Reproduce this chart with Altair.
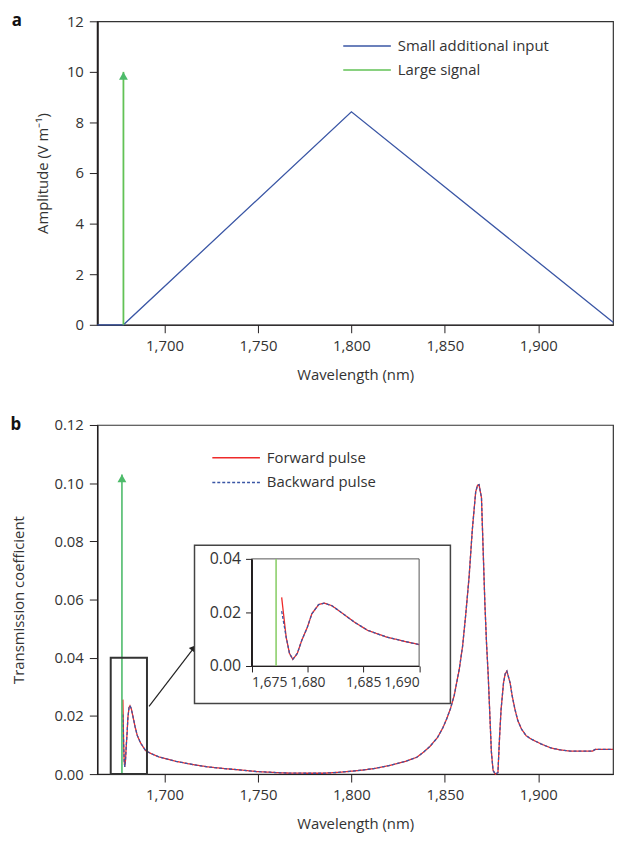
import altair as alt
import pandas as pd

# ---------------- data ----------------
# Panel a: pulse amplitudes
a_wavelength = [1664, 1678, 1800, 1940]
a_amplitude = [0.0, 0.0, 8.42, 0.1]
a_signal_wavelength = [1678]
a_signal_amplitude = [10]

# Panel b: transmission spectra
b_wavelength = [1677.7, 1678.1, 1678.4, 1678.7, 1679.1, 1679.5, 1680.0, 1680.4, 1681.0, 1681.5,
                1682.2, 1683.0, 1684.2, 1685.4, 1687.1, 1688.9, 1690.0, 1693, 1697, 1706,
                1715, 1723, 1732, 1741, 1749, 1755, 1763, 1775, 1785, 1793,
                1800, 1806, 1812, 1820, 1829, 1835, 1838.5, 1842, 1846, 1849,
                1851, 1853, 1855, 1857.7, 1859.5, 1861.2, 1863, 1864.7, 1866.5, 1867.5,
                1868.3, 1869.6, 1870.5, 1871.4, 1872.3, 1873.2, 1874.1, 1874.9, 1875.8, 1877.0,
                1878.4, 1879.3, 1880.1, 1881.4, 1882.3, 1883.2, 1884.9, 1886.0, 1887.5, 1889,
                1891, 1893.5, 1896.3, 1901.4, 1906.7, 1911.9, 1917.2, 1929, 1930.5, 1940]
forward_T = [0.0256, 0.0108, 0.0047, 0.0025, 0.0047, 0.0096, 0.0145, 0.0195, 0.0229, 0.0235,
             0.0225, 0.0201, 0.0164, 0.0133, 0.0108, 0.0090, 0.0080, 0.0070, 0.0059, 0.0044,
             0.0033, 0.0025, 0.0019, 0.0014, 0.0009, 0.0007, 0.0004, 0.0003, 0.0003, 0.0006,
             0.0010, 0.0014, 0.0019, 0.0029, 0.0044, 0.0058, 0.0075, 0.0095, 0.0125, 0.0160,
             0.0190, 0.0225, 0.0270, 0.0360, 0.0440, 0.0550, 0.0680, 0.0840, 0.0970, 0.0993,
             0.0995, 0.0950, 0.0770, 0.0590, 0.0450, 0.0340, 0.0200, 0.0077, 0.0013, 0.0000,
             0.0005, 0.0130, 0.0223, 0.0314, 0.0345, 0.0354, 0.0314, 0.0270, 0.0223, 0.0185,
             0.0155, 0.0132, 0.0120, 0.0104, 0.0090, 0.0083, 0.0079, 0.0079, 0.0085, 0.0085]
backward_T = [0.0205] + forward_T[1:]
b_signal_wavelength = [1677.2]
b_signal_T = [0.103]

# annotation boxes (data coordinates)
zoom_box_wl = [1671.2, 1690.6]
zoom_box_T = [0.0, 0.04]
pointer_wl = [1691.7, 1715.7]
pointer_T = [0.0233, 0.0434]
inset_box_wl = [1669.9, 1692.8]
inset_box_T = [-0.014, 0.0451]
inset_frame_wl = [1675, 1690]
inset_frame_T = [0.0, 0.04]

# ---------------- style ----------------
FONT = "Open Sans"
TXT = "#333333"
AX = "#231f20"
BLUE = "#3a56a5"
RED = "#ee2a2a"
GREEN = "#4dbb6a"
LGREEN = "#8ccf6c"
W = 520
HA = 306
HB = 352

x_scale = alt.Scale(domain=[1664, 1940], nice=False, zero=False)
x_axis = alt.Axis(values=[1700, 1750, 1800, 1850, 1900], format=",d",
                  title="Wavelength (nm)", titlePadding=14)

# ---------------- panel a ----------------
df_a = pd.DataFrame({"wl": a_wavelength, "amp": a_amplitude,
                     "series": ["Small additional input"] * len(a_wavelength)})
df_sig_a = pd.DataFrame({"wl": a_signal_wavelength, "amp": a_signal_amplitude,
                         "series": ["Large signal"]})

xa = alt.X("wl:Q", scale=x_scale, axis=x_axis)
ya = alt.Y("amp:Q", scale=alt.Scale(domain=[0, 12], nice=False),
           axis=alt.Axis(values=list(range(0, 13, 2)), title="Amplitude (V m\u207b\u00b9)",
                         titleX=-55, titleBaseline="middle", domainWidth=2))
color_a = alt.Color("series:N",
                    scale=alt.Scale(domain=["Small additional input", "Large signal"],
                                    range=[BLUE, "#62c256"]),
                    legend=alt.Legend(title=None, orient="none", legendX=247, legendY=12,
                                      symbolType="M-1,0H3", symbolSize=576,
                                      symbolStrokeWidth=1.5, labelOffset=30,
                                      labelFontSize=15, labelFont=FONT, labelColor=TXT,
                                      rowPadding=3, padding=0, labelLimit=400))

line_a = alt.Chart(df_a).mark_line(strokeWidth=1.3).encode(x=xa, y=ya, color=color_a)
arrow_a = alt.Chart(df_sig_a).mark_rule(strokeWidth=1.8).encode(
    x=xa, y=ya, y2=alt.datum(0), color=color_a)
head_a = alt.Chart(df_sig_a).mark_point(shape="triangle-up", filled=True, size=80,
                                        opacity=1, color=GREEN, yOffset=4).encode(x=xa, y=ya)
label_a = alt.Chart(pd.DataFrame({"t": ["a"]})).mark_text(
    font=FONT, fontSize=17, fontWeight="bold", color="#111", baseline="middle",
    align="center").encode(text="t:N", x=alt.value(-81), y=alt.value(0))

panel_a = alt.layer(line_a, arrow_a, head_a, label_a).properties(width=W, height=HA)

# ---------------- panel b ----------------
df_fwd = pd.DataFrame({"wl": b_wavelength, "T": forward_T,
                       "pulse": ["Forward pulse"] * len(b_wavelength)})
df_bwd = pd.DataFrame({"wl": b_wavelength, "T": backward_T,
                       "pulse": ["Backward pulse"] * len(b_wavelength)})
df_sig_b = pd.DataFrame({"wl": b_signal_wavelength, "T": b_signal_T})
df_zoom = pd.DataFrame({"wl": [zoom_box_wl[0]], "wl2": [zoom_box_wl[1]],
                        "T": [zoom_box_T[0]], "T2": [zoom_box_T[1]]})
df_ptr = pd.DataFrame({"wl": [pointer_wl[0]], "wl2": [pointer_wl[1]],
                       "T": [pointer_T[0]], "T2": [pointer_T[1]]})
df_ptr_head = pd.DataFrame({"wl": [pointer_wl[1]], "T": [pointer_T[1]]})

xb = alt.X("wl:Q", scale=x_scale, axis=x_axis)
yb = alt.Y("T:Q", scale=alt.Scale(domain=[0, 0.12], nice=False),
           axis=alt.Axis(values=[0, 0.02, 0.04, 0.06, 0.08, 0.10, 0.12], format=".2f",
                         title="Transmission coefficient", titleX=-79,
                         titleBaseline="middle", domainWidth=1.5))
pulse_domain = ["Forward pulse", "Backward pulse"]
legend_b = alt.Legend(title=None, orient="none", legendX=115, legendY=20,
                      symbolType="M-1,0H3", symbolSize=576, symbolStrokeWidth=1.4,
                      labelOffset=30, labelFontSize=15, labelFont=FONT, labelColor=TXT,
                      rowPadding=4, padding=0, labelLimit=400)
color_b = alt.Color("pulse:N", scale=alt.Scale(domain=pulse_domain, range=[RED, BLUE]),
                    legend=legend_b)
dash_b = alt.StrokeDash("pulse:N", scale=alt.Scale(domain=pulse_domain, range=[[1, 0], [3, 2]]),
                        legend=legend_b)

fwd_b = alt.Chart(df_fwd).mark_line(strokeWidth=1.3).encode(x=xb, y=yb, color=color_b,
                                                            strokeDash=dash_b)
bwd_b = alt.Chart(df_bwd).mark_line(strokeWidth=1.3).encode(x=xb, y=yb, color=color_b,
                                                            strokeDash=dash_b)
arrow_b = alt.Chart(df_sig_b).mark_rule(strokeWidth=1.6, color=GREEN).encode(
    x=xb, y=yb, y2=alt.datum(0))
head_b = alt.Chart(df_sig_b).mark_point(shape="triangle-up", filled=True, size=80,
                                        opacity=1, color=GREEN, yOffset=4).encode(x=xb, y=yb)
zoom_rect = alt.Chart(df_zoom).mark_rect(fillOpacity=0, stroke="#333333", strokeWidth=2).encode(
    x=xb, x2="wl2:Q", y=yb, y2="T2:Q")
pointer = alt.Chart(df_ptr).mark_rule(strokeWidth=1.2, color="#222").encode(
    x=xb, x2="wl2:Q", y=yb, y2="T2:Q")
pointer_head = alt.Chart(df_ptr_head).mark_point(shape="triangle-up", filled=True, size=60,
                                                 opacity=1, color="#222", angle=38).encode(
    x=xb, y=yb)
label_b = alt.Chart(pd.DataFrame({"t": ["b"]})).mark_text(
    font=FONT, fontSize=17, fontWeight="bold", color="#111", baseline="middle",
    align="center").encode(text="t:N", x=alt.value(-82), y=alt.value(0))

main_b = alt.layer(fwd_b, bwd_b, arrow_b, head_b, zoom_rect, pointer, pointer_head, label_b)

# ---------------- inset ----------------
xi = alt.X("wl:Q", scale=alt.Scale(domain=[1675, 1690], range=[155.5, 324.5], nice=False,
                                   zero=False),
           axis=alt.Axis(values=[1675, 1680, 1685, 1690], format=",d", title=None,
                         orient="bottom", offset=-109, zindex=2, tickSize=6,
                         labelFontSize=14, labelPadding=4, domainWidth=1.2,
                         labelOverlap=False))
yi = alt.Y("T:Q", scale=alt.Scale(domain=[0, 0.04], range=[243, 135], nice=False),
           axis=alt.Axis(values=[0, 0.02, 0.04], format=".2f", title=None, orient="left",
                         offset=-155.5, zindex=2, tickSize=6, labelFontSize=16,
                         labelPadding=5, domainWidth=2, labelOverlap=False))
df_ibox = pd.DataFrame({"wl": [inset_box_wl[0]], "wl2": [inset_box_wl[1]],
                        "T": [inset_box_T[0]], "T2": [inset_box_T[1]]})
df_iframe = pd.DataFrame({"wl": [inset_frame_wl[0]], "wl2": [inset_frame_wl[1]],
                          "T": [inset_frame_T[0]], "T2": [inset_frame_T[1]]})
df_isig = pd.DataFrame({"wl": b_signal_wavelength, "T": [inset_frame_T[1]]})

inset_bg = alt.Chart(df_ibox).mark_rect(fill="white", stroke="#444444", strokeWidth=1.5).encode(
    x=xi, x2="wl2:Q", y=yi, y2="T2:Q")
inset_frame = alt.Chart(df_iframe).mark_rect(fillOpacity=0, stroke="#555555",
                                             strokeWidth=1).encode(
    x=xi, x2="wl2:Q", y=yi, y2="T2:Q")
inset_sig = alt.Chart(df_isig).mark_rule(strokeWidth=1.6, color=LGREEN).encode(
    x=xi, y=yi, y2=alt.datum(0))
inset_fwd = alt.Chart(df_fwd).transform_filter("datum.wl <= 1690").mark_line(
    strokeWidth=1.3).encode(x=xi, y=yi, color=color_b, strokeDash=dash_b)
inset_bwd = alt.Chart(df_bwd).transform_filter("datum.wl <= 1690").mark_line(
    strokeWidth=1.3).encode(x=xi, y=yi, color=color_b, strokeDash=dash_b)

inset = alt.layer(inset_bg, inset_frame, inset_sig, inset_fwd, inset_bwd)

panel_b = alt.layer(main_b, inset).resolve_scale(x="independent", y="independent").properties(
    width=W, height=HB)

# ---------------- assemble ----------------
chart = alt.vconcat(panel_a, panel_b, spacing=32).resolve_scale(
    x="independent", y="independent", color="independent", strokeDash="independent"
).properties(
    padding={"left": 2, "top": 0, "right": 0, "bottom": 0}
).configure_view(
    stroke="#333333", strokeWidth=1.2
).configure_axis(
    labelFont=FONT, labelFontSize=15, labelColor=TXT, titleFont=FONT, titleFontSize=15,
    titleFontWeight="normal", titleColor=TXT, tickColor=AX, domainColor=AX, grid=False,
    tickSize=8, labelPadding=6
)

chart.save("out.html", embed_options={"renderer": "svg", "actions": False})
